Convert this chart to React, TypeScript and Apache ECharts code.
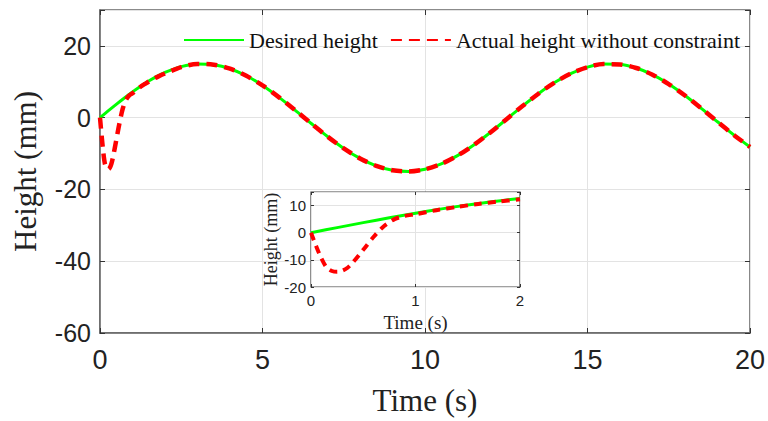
import React, { useEffect, useRef } from "react";
import * as echarts from "echarts";

const desiredTime = [
  0, 0.25, 0.5, 0.75, 1, 1.25, 1.5, 1.75, 2, 2.5, 3, 3.5, 4, 4.5, 5, 5.5, 6, 6.5, 7, 7.5, 8, 8.5, 9, 9.5,
  10, 10.5, 11, 11.5, 12, 12.5, 13, 13.5, 14, 14.5, 15, 15.5, 16, 16.5, 17, 17.5, 18, 18.5, 19, 19.5, 20,
];
const desiredHeight = [
  0, 1.87, 3.71, 5.49, 7.19, 8.78, 10.22, 11.51, 12.62, 14.23, 14.96, 14.76, 13.64, 11.67, 8.98, 5.73, 2.12,
  -1.62, -5.26, -8.57, -11.35, -13.43, -14.66, -14.99, -14.38, -12.88, -10.58, -7.62, -4.19, -0.5, 3.23, 6.75,
  9.85, 12.35, 14.07, 14.92, 14.84, 13.84, 11.98, 9.37, 6.18, 2.61, -1.13, -4.8, -8.16,
];
const actualTime = [
  0, 0.05, 0.1, 0.15, 0.2, 0.25, 0.3, 0.35, 0.4, 0.5, 0.6, 0.7, 0.8, 0.9, 1.0, 1.2, 1.4, 1.6, 1.8, 2.0, 2.5, 3,
  3.5, 4, 4.5, 5, 5.5, 6, 6.5, 7, 7.5, 8, 8.5, 9, 9.5, 10, 10.5, 11, 11.5, 12, 12.5, 13, 13.5, 14, 14.5, 15,
  15.5, 16, 16.5, 17, 17.5, 18, 18.5, 19, 19.5, 20,
];
const actualHeight = [
  0, -5, -9.5, -12.8, -14.1, -14.4, -14.0, -12.9, -11, -6.3, -1.5, 2.5, 5.0, 6.2, 6.8, 8.3, 9.5, 10.6, 11.5, 12.3,
  14.1, 14.96, 14.76, 13.64, 11.67, 8.98, 5.73, 2.12, -1.62, -5.26, -8.57, -11.35, -13.43, -14.66, -14.99,
  -14.38, -12.88, -10.58, -7.62, -4.19, -0.5, 3.23, 6.75, 9.85, 12.35, 14.07, 14.92, 14.84, 13.84, 11.98, 9.37,
  6.18, 2.61, -1.13, -4.8, -8.16,
];

const mainXTicks = { min: 0, max: 20, interval: 5 };
const mainYTicks = { min: -60, max: 30, interval: 20 };
const insetXTicks = { min: 0, max: 2, interval: 1 };
const insetYTicks = { min: -20, max: 15, interval: 10 };

const seriesNames = ["Desired height", "Actual height without constraint"];

export default function App() {
  const ref = useRef<HTMLDivElement>(null);
  useEffect(() => {
    if (!ref.current) return;
    const chart = echarts.init(ref.current, null, { renderer: "svg" });
    const desired = desiredTime.map((t, i) => [t, desiredHeight[i]]);
    const actual = actualTime.map((t, i) => [t, actualHeight[i]]);
    const insetDesired = desired.filter((p) => p[0] <= 2);
    const insetActual = actual.filter((p) => p[0] <= 2);
    const axisLineStyle = { color: "#666", width: 1.5 };
    const sans = "Liberation Sans";
    const serif = "Liberation Serif";
    const hideMax = (max: number) => (v: number) => (v === max ? "" : String(v));
    const tickStyle = { color: "#333" };

    chart.setOption({
      animation: false,
      backgroundColor: "#fff",
      legend: {
        left: 183,
        top: 29,
        itemWidth: 60,
        itemHeight: 14,
        itemGap: 12,
        padding: 0,
        data: seriesNames,
        itemStyle: { opacity: 0 },
        textStyle: { fontFamily: serif, fontSize: 22, color: "#111" },
      },
      grid: [
        { left: 100, top: 10, width: 651, height: 324, show: true, borderColor: "#666", borderWidth: 1.5, backgroundColor: "#fff", z: 0 },
        { left: 311, top: 192, width: 209, height: 95, show: true, borderColor: "#444", borderWidth: 1.2, backgroundColor: "#fff", z: 1 },
      ],
      xAxis: [
        {
          type: "value", gridIndex: 0, ...mainXTicks, position: "bottom",
          axisLine: { show: true, onZero: false, lineStyle: axisLineStyle },
          axisTick: { show: true, inside: true, length: 5, lineStyle: tickStyle },
          axisLabel: { fontFamily: sans, fontSize: 27, color: "#222", margin: 13 },
          splitLine: { show: true, lineStyle: { color: "#e3e3e3", width: 1 } },
          name: "Time (s)", nameLocation: "middle", nameGap: 52,
          nameTextStyle: { fontFamily: serif, fontSize: 31, color: "#222" },
        },
        {
          type: "value", gridIndex: 0, ...mainXTicks, position: "top",
          axisLine: { show: false, onZero: false },
          axisTick: { show: true, inside: true, length: 5, lineStyle: tickStyle },
          axisLabel: { show: false }, splitLine: { show: false },
        },
        {
          type: "value", gridIndex: 1, ...insetXTicks, position: "bottom",
          axisLine: { show: false, onZero: false },
          axisTick: { show: true, inside: true, length: 3, lineStyle: tickStyle },
          axisLabel: { fontFamily: sans, fontSize: 15, color: "#222", margin: 6 },
          splitLine: { show: true, lineStyle: { color: "#e3e3e3", width: 1 } },
          name: "Time (s)", nameLocation: "middle", nameGap: 26, z: 2,
          nameTextStyle: { fontFamily: serif, fontSize: 19, color: "#222" },
        },
        {
          type: "value", gridIndex: 1, ...insetXTicks, position: "top",
          axisLine: { show: false, onZero: false },
          axisTick: { show: true, inside: true, length: 3, lineStyle: tickStyle },
          axisLabel: { show: false }, splitLine: { show: false }, z: 2,
        },
      ],
      yAxis: [
        {
          type: "value", gridIndex: 0, ...mainYTicks, position: "left",
          axisLine: { show: true, onZero: false, lineStyle: axisLineStyle },
          axisTick: { show: true, inside: true, length: 5, lineStyle: tickStyle },
          axisLabel: { fontFamily: sans, fontSize: 25, color: "#222", margin: 9, formatter: hideMax(30) },
          splitLine: { show: true, lineStyle: { color: "#e3e3e3", width: 1 } },
          name: "Height (mm)", nameLocation: "middle", nameGap: 59,
          nameTextStyle: { fontFamily: serif, fontSize: 31, color: "#222" },
        },
        {
          type: "value", gridIndex: 0, ...mainYTicks, position: "right",
          axisLine: { show: false, onZero: false },
          axisTick: { show: true, inside: true, length: 5, lineStyle: tickStyle },
          axisLabel: { show: false }, splitLine: { show: false },
        },
        {
          type: "value", gridIndex: 1, ...insetYTicks, position: "left",
          axisLine: { show: false, onZero: false },
          axisTick: { show: true, inside: true, length: 3, lineStyle: tickStyle },
          axisLabel: { fontFamily: sans, fontSize: 15, color: "#222", margin: 5, formatter: hideMax(15) },
          splitLine: { show: true, lineStyle: { color: "#e3e3e3", width: 1 } },
          name: "Height (mm)", nameLocation: "middle", nameGap: 29, z: 2,
          nameTextStyle: { fontFamily: serif, fontSize: 18, color: "#222" },
        },
        {
          type: "value", gridIndex: 1, ...insetYTicks, position: "right",
          axisLine: { show: false, onZero: false },
          axisTick: { show: true, inside: true, length: 3, lineStyle: tickStyle },
          axisLabel: { show: false }, splitLine: { show: false }, z: 2,
        },
      ],
      series: [
        {
          name: seriesNames[0], type: "line", xAxisIndex: 0, yAxisIndex: 0, data: desired,
          smooth: 0.3, symbol: "none", lineStyle: { color: "#00ff00", width: 3 }, itemStyle: { color: "#00ff00" }, z: 2,
        },
        {
          name: seriesNames[1], type: "line", xAxisIndex: 0, yAxisIndex: 0, data: actual,
          smooth: 0.3, symbol: "none", lineStyle: { color: "#ff0000", width: 4.5, type: [11, 7] }, itemStyle: { color: "#ff0000" }, z: 3,
        },
        {
          name: seriesNames[0], type: "line", xAxisIndex: 2, yAxisIndex: 2, data: insetDesired,
          smooth: 0.3, symbol: "none", lineStyle: { color: "#00ff00", width: 3 }, itemStyle: { color: "#00ff00" }, z: 4,
        },
        {
          name: seriesNames[1], type: "line", xAxisIndex: 2, yAxisIndex: 2, data: insetActual,
          smooth: 0.3, symbol: "none", lineStyle: { color: "#ff0000", width: 4, type: [8, 6] }, itemStyle: { color: "#ff0000" }, z: 5,
        },
      ],
    });
    return () => chart.dispose();
  }, []);
  return <div ref={ref} style={{ width: 768, height: 421, position: "absolute", left: 0, top: 0 }} />;
}
